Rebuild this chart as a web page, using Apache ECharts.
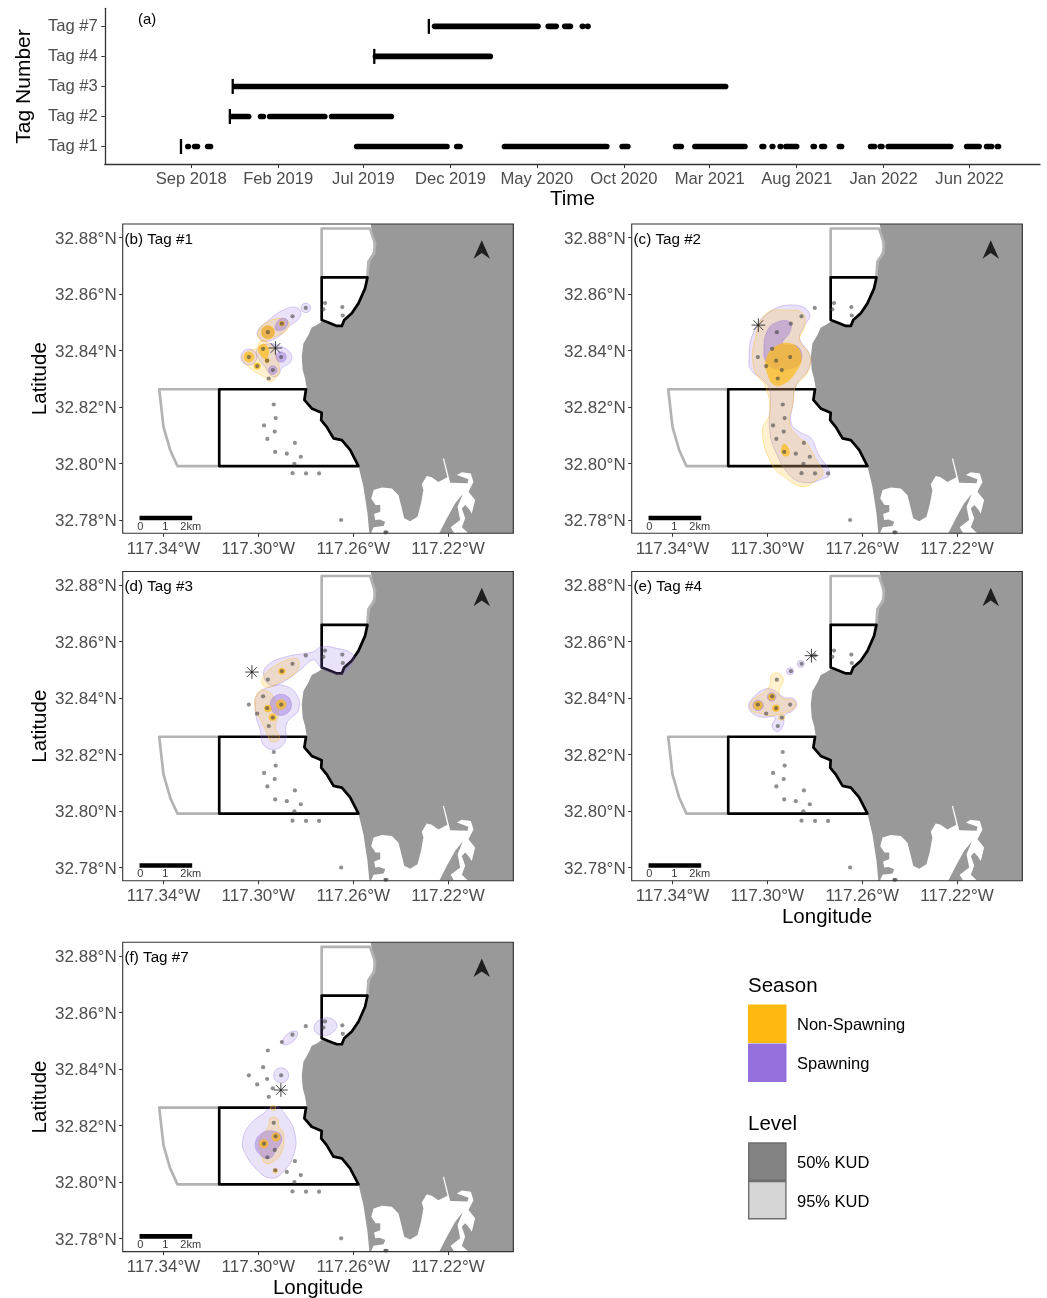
<!DOCTYPE html>
<html><head><meta charset="utf-8">
<script src="https://cdn.jsdelivr.net/npm/echarts@6/dist/echarts.min.js"></script>
<style>html,body{margin:0;padding:0;background:#fff}#c{width:1047px;height:1298px}</style>
</head><body><div id="c"></div>
<script>
// ---------- (a) detection timeline ----------
const tagLabels = ['Tag #1','Tag #2','Tag #3','Tag #4','Tag #7'];
const timeTickDates = ['2018-09-01','2019-02-01','2019-07-01','2019-12-01','2020-05-01','2020-10-01','2021-03-01','2021-08-01','2022-01-01','2022-06-01'];
const timeTickLabels = ['Sep 2018','Feb 2019','Jul 2019','Dec 2019','May 2020','Oct 2020','Mar 2021','Aug 2021','Jan 2022','Jun 2022'];
const releaseDates = ['2018-08-14','2018-11-08','2018-11-13','2019-07-20','2019-10-24'];
const tag1Runs = [['2018-08-26','2018-08-27'],['2018-09-07','2018-09-12'],['2018-09-30','2018-10-05'],['2019-06-19','2019-11-25'],['2019-12-12','2019-12-18'],['2020-03-05','2020-09-01'],['2020-09-28','2020-10-08'],['2020-12-31','2021-01-10'],['2021-02-03','2021-05-02'],['2021-06-01','2021-06-04'],['2021-06-19','2021-06-20'],['2021-07-03','2021-07-04'],['2021-07-13','2021-08-01'],['2021-08-30','2021-09-01'],['2021-09-14','2021-09-19'],['2021-10-15','2021-10-19'],['2021-12-09','2021-12-16'],['2021-12-26','2021-12-29'],['2022-01-09','2022-04-29'],['2022-05-27','2022-06-18'],['2022-07-01','2022-07-10'],['2022-07-20','2022-07-22']];
const tag2Runs = [['2018-11-11','2018-12-11'],['2019-01-01','2019-01-06'],['2019-01-17','2019-04-24'],['2019-05-06','2019-08-19']];
const tag3Runs = [['2018-11-17','2021-03-29']];
const tag4Runs = [['2019-07-22','2020-02-09']];
const tag7Runs = [['2019-11-03','2020-05-03'],['2020-05-21','2020-06-04'],['2020-06-19','2020-06-29'],['2020-07-20','2020-07-21'],['2020-07-29','2020-07-30']];

// ---------- map geography (degrees west, degrees north) ----------
const lonTicks = [117.34,117.30,117.26,117.22];
const latTicks = [32.88,32.86,32.84,32.82,32.80,32.78];
const coast = [[117.2529,32.8862],[117.2518,32.8803],[117.2512,32.8762],[117.2529,32.8720],[117.2540,32.8667],[117.2550,32.8620],[117.2578,32.8567],[117.2606,32.8532],[117.2638,32.8508],[117.2648,32.8487],[117.2669,32.8487],[117.2705,32.8499],[117.2733,32.8502],[117.2754,32.8490],[117.2775,32.8482],[117.2789,32.8455],[117.2810,32.8425],[117.2817,32.8378],[117.2813,32.8331],[117.2803,32.8301],[117.2796,32.8266],[117.2806,32.8225],[117.2775,32.8195],[117.2733,32.8180],[117.2735,32.8154],[117.2712,32.8130],[117.2683,32.8089],[117.2648,32.8083],[117.2613,32.8048],[117.2578,32.7991],[117.2557,32.7918],[117.2540,32.7824],[117.2532,32.7753],[117.2529,32.7694],[117.18,32.7694],[117.18,32.89],[117.2529,32.89]];
const bay = [[117.2529,32.7747],[117.2514,32.7774],[117.2472,32.7779],[117.2465,32.7794],[117.2489,32.7802],[117.2507,32.7800],[117.2512,32.7821],[117.2486,32.7829],[117.2486,32.7853],[117.2506,32.7853],[117.2524,32.7876],[117.2514,32.7906],[117.2479,32.7915],[117.2437,32.7912],[117.2409,32.7888],[117.2395,32.7841],[117.2385,32.7806],[117.2360,32.7796],[117.2329,32.7812],[117.2314,32.7859],[117.2304,32.7906],[117.2311,32.7927],[117.2290,32.7956],[117.2269,32.7951],[117.2241,32.7935],[117.2203,32.7951],[117.2222,32.8018],[117.2217,32.8018],[117.2191,32.7932],[117.2118,32.7930],[117.2114,32.7944],[117.2163,32.7959],[117.2142,32.7969],[117.2104,32.7965],[117.2093,32.7935],[117.2114,32.7900],[117.2086,32.7871],[117.2100,32.7823],[117.2114,32.7841],[117.2128,32.7853],[117.2142,32.7841],[117.2128,32.7806],[117.2142,32.7774],[117.2107,32.7747]];
const bayIslands = [
  [[117.2241,32.7747],[117.2205,32.7806],[117.2170,32.7859],[117.2138,32.7892],[117.2160,32.7847],[117.2149,32.7800],[117.2189,32.7774],[117.2170,32.7747]],
  [[117.2472,32.7762],[117.2451,32.7762],[117.2451,32.7747],[117.2472,32.7747]]
];
const mpaBlack = [
  [[117.3165,32.8263],[117.2799,32.8263],[117.2806,32.8225],[117.2775,32.8195],[117.2733,32.8180],[117.2735,32.8154],[117.2712,32.8130],[117.2683,32.8089],[117.2648,32.8083],[117.2613,32.8048],[117.2578,32.7991],[117.3165,32.7991],[117.3165,32.8263]],
  [[117.2733,32.8659],[117.2540,32.8659],[117.2550,32.8620],[117.2578,32.8567],[117.2606,32.8532],[117.2638,32.8508],[117.2648,32.8487],[117.2669,32.8487],[117.2705,32.8499],[117.2733,32.8508],[117.2733,32.8659]]
];
const mpaGrey = [
  [[117.3165,32.8263],[117.3418,32.8263],[117.3400,32.8130],[117.3372,32.8048],[117.3341,32.7991],[117.3165,32.7991]],
  [[117.2733,32.8659],[117.2733,32.8832],[117.2529,32.8832],[117.2508,32.8779],[117.2512,32.8744],[117.2536,32.8714],[117.2540,32.8659]]
];
const receivers = [[117.2800,32.8551],[117.2856,32.8521],[117.2719,32.8568],[117.2646,32.8554],[117.2644,32.8524],[117.2726,32.8546],[117.2901,32.8495],[117.2960,32.8465],[117.2980,32.8406],[117.3040,32.8377],[117.2904,32.8377],[117.3005,32.8345],[117.2963,32.8364],[117.2939,32.8331],[117.2956,32.8301],[117.2935,32.8209],[117.2927,32.8161],[117.2976,32.8135],[117.2931,32.8113],[117.2962,32.8087],[117.2846,32.8073],[117.2929,32.8041],[117.2880,32.8035],[117.2821,32.8024],[117.2848,32.7999],[117.2856,32.7966],[117.2799,32.7965],[117.2744,32.7965],[117.2651,32.7800],[117.2463,32.7756]];
const northArrow = [[117.2058,32.8758]];
const scaleBar = [[[117.3501,32.7807],[117.3279,32.7807]]];
const scaleLabels = [[117.3498,32.7776,'0'],[117.3392,32.7776,'1'],[117.3285,32.7776,'2km']];
const seasonLabels = ['Non-Spawning','Spawning'];
const levelLabels = ['50% KUD','95% KUD'];

// ---------- release sites ----------
const releaseSites = [[117.2928,32.8409],[117.3038,32.8490],[117.3027,32.8492],[117.2814,32.8550],[117.2905,32.8325]];

// ---------- home ranges: polygons of [lon,lat], or circles [lon,lat,radius] ----------
const tag1Spawn95 = [
 [[117.3004,32.8467],[117.2965,32.8502],[117.2880,32.8549],[117.2831,32.8549],[117.2824,32.8520],[117.2873,32.8484],[117.2916,32.8449],[117.2972,32.8431],[117.2996,32.8443]],
 [117.2800,32.8551,.0020],[117.3040,32.8377,.0034],
 [[117.3007,32.8402],[117.2965,32.8423],[117.2909,32.8416],[117.2864,32.8390],[117.2864,32.8360],[117.2902,32.8337],[117.2916,32.8313],[117.2944,32.8310],[117.2972,32.8343],[117.3000,32.8372]]];
const tag1Non95 = [
 [[117.3070,32.8378],[117.3042,32.8399],[117.3007,32.8408],[117.2993,32.8431],[117.2965,32.8431],[117.2930,32.8396],[117.2911,32.8331],[117.2923,32.8307],[117.2951,32.8290],[117.2976,32.8307],[117.3014,32.8325],[117.3056,32.8355]],
 [[117.3000,32.8467],[117.2972,32.8496],[117.2909,32.8514],[117.2873,32.8502],[117.2880,32.8473],[117.2930,32.8449],[117.2979,32.8435],[117.2996,32.8443]]];
const tag1Non50 = [[117.2960,32.8465,.0028],[117.2901,32.8495,.0011],
 [[117.3000,32.8408],[117.2979,32.8423],[117.2958,32.8408],[117.2961,32.8378],[117.2969,32.8370],[117.2990,32.8384]],
 [117.3040,32.8377,.0021],[117.3005,32.8345,.0014],[117.2963,32.8364,.0010]];
const tag1Spawn50 = [
 [[117.2930,32.8478],[117.2911,32.8510],[117.2880,32.8510],[117.2880,32.8487],[117.2911,32.8470]],
 [117.2960,32.8465,.0025],[117.2904,32.8377,.0022],[117.2939,32.8331,.0018]];

const tag2Spawn95 = [[[117.3077,32.8372],[117.3060,32.8461],[117.2990,32.8537],[117.2885,32.8561],[117.2822,32.8531],[117.2850,32.8478],[117.2864,32.8443],[117.2822,32.8384],[117.2829,32.8331],[117.2878,32.8278],[117.2892,32.8213],[117.2899,32.8142],[117.2864,32.8112],[117.2815,32.8089],[117.2787,32.8036],[117.2737,32.7965],[117.2772,32.7944],[117.2836,32.7932],[117.2899,32.7953],[117.2962,32.8036],[117.2990,32.8118],[117.2990,32.8260],[117.3018,32.8295],[117.3068,32.8331]]];
const tag2Non95 = [[[117.3004,32.8531],[117.2913,32.8543],[117.2850,32.8531],[117.2843,32.8484],[117.2864,32.8437],[117.2822,32.8384],[117.2829,32.8325],[117.2881,32.8272],[117.2892,32.8213],[117.2906,32.8142],[117.2871,32.8095],[117.2833,32.8071],[117.2794,32.8012],[117.2765,32.7965],[117.2794,32.7941],[117.2850,32.7918],[117.2920,32.7947],[117.2983,32.8000],[117.3021,32.8118],[117.2990,32.8177],[117.3007,32.8272],[117.3039,32.8307],[117.3060,32.8348],[117.3053,32.8437]]];
const tag2Non50 = [
 [[117.3004,32.8372],[117.2955,32.8419],[117.2885,32.8419],[117.2857,32.8372],[117.2885,32.8319],[117.2927,32.8284],[117.2969,32.8278],[117.2997,32.8313]],
 [[117.2941,32.8053],[117.2927,32.8069],[117.2906,32.8042],[117.2913,32.8028],[117.2934,32.8030]]];
const tag2Spawn50 = [[[117.3015,32.8392],[117.3000,32.8470],[117.2955,32.8502],[117.2903,32.8500],[117.2905,32.8466],[117.2935,32.8425],[117.2871,32.8413],[117.2857,32.8366],[117.2899,32.8337],[117.2969,32.8337],[117.3004,32.8360]]];

const tag3Spawn95 = [
 [[117.2978,32.8488],[117.2950,32.8523],[117.2880,32.8547],[117.2803,32.8558],[117.2768,32.8564],[117.2732,32.8582],[117.2669,32.8576],[117.2606,32.8558],[117.2599,32.8535],[117.2641,32.8488],[117.2683,32.8488],[117.2739,32.8511],[117.2768,32.8535],[117.2824,32.8499],[117.2894,32.8458],[117.2950,32.8446]],
 [[117.3013,32.8358],[117.3006,32.8411],[117.2950,32.8440],[117.2887,32.8443],[117.2838,32.8411],[117.2831,32.8358],[117.2880,32.8311],[117.2887,32.8246],[117.2929,32.8219],[117.2978,32.8234],[117.2992,32.8287],[117.3006,32.8322]]];
const tag3Non95 = [
 [[117.2985,32.8464],[117.2936,32.8511],[117.2845,32.8541],[117.2828,32.8523],[117.2845,32.8488],[117.2908,32.8458],[117.2964,32.8438]],
 [[117.3013,32.8358],[117.3004,32.8417],[117.2964,32.8425],[117.2929,32.8393],[117.2915,32.8346],[117.2929,32.8299],[117.2911,32.8257],[117.2943,32.8246],[117.2964,32.8275],[117.2985,32.8316]]];
const tag3Non50 = [[117.2901,32.8495,.0014],[117.2904,32.8377,.0021],[117.2960,32.8363,.0015],[117.2940,32.8332,.0015]];
const tag3Spawn50 = [[117.2905,32.8376,.0045]];

const tag4Spawn95 = [[117.2859,32.8521,.0015],[117.2904,32.8495,.0015],
 [[117.3079,32.8372],[117.3060,32.8401],[117.3013,32.8431],[117.2982,32.8431],[117.2954,32.8417],[117.2926,32.8401],[117.2891,32.8399],[117.2877,32.8375],[117.2898,32.8352],[117.2926,32.8340],[117.2933,32.8305],[117.2957,32.8281],[117.2980,32.8299],[117.2968,32.8332],[117.3018,32.8332],[117.3060,32.8344]]];
const tag4Non95 = [[[117.3074,32.8375],[117.3053,32.8399],[117.3010,32.8423],[117.2987,32.8452],[117.2982,32.8482],[117.2954,32.8488],[117.2933,32.8466],[117.2947,32.8434],[117.2950,32.8411],[117.2926,32.8397],[117.2891,32.8393],[117.2881,32.8372],[117.2905,32.8355],[117.2940,32.8346],[117.2989,32.8337],[117.3032,32.8346],[117.3062,32.8352]],[117.2940,32.8332,.0013]];
const tag4Non50 = [[117.3039,32.8374,.0018],[117.2982,32.8404,.0014],[117.2964,32.8364,.0015]];
const tag4Spawn50 = [[117.3039,32.8374,.0022],[117.2982,32.8404,.0018]];

const tag7Spawn95 = [
 [[117.3067,32.8143],[117.3042,32.8196],[117.2978,32.8243],[117.2929,32.8267],[117.2880,32.8231],[117.2845,32.8166],[117.2849,32.8102],[117.2887,32.8043],[117.2943,32.8013],[117.3006,32.8043],[117.3056,32.8102]],
 [117.2904,32.8377,.0032],
 [[117.2901,32.8497],[117.2873,32.8526],[117.2838,32.8532],[117.2841,32.8509],[117.2873,32.8487],[117.2897,32.8487]],
 [[117.2765,32.8550],[117.2739,32.8574],[117.2697,32.8579],[117.2669,32.8556],[117.2683,32.8532],[117.2718,32.8517],[117.2754,32.8526]]];
const tag7Non95 = [
 [[117.2985,32.8090],[117.2999,32.8143],[117.2957,32.8196],[117.2950,32.8225],[117.2922,32.8225],[117.2912,32.8196],[117.2894,32.8172],[117.2901,32.8107],[117.2936,32.8072],[117.2971,32.8066]],
 [117.2928,32.8039,.0011],[117.2938,32.8262,.0011]];
const tag7Non50 = [[117.2977,32.8135,.0018],[117.2926,32.8159,.0018],[117.2928,32.8039,.0006]];
const tag7Spawn50 = [[[117.3013,32.8131],[117.2985,32.8172],[117.2929,32.8178],[117.2901,32.8155],[117.2929,32.8107],[117.2950,32.8084],[117.2985,32.8090]]];

// ---------- layout and styling ----------
const FONT='"Liberation Sans", Arial, sans-serif';
const TICK='#4D4D4D', DARK='#333333';
const NON='255,185,15', SPA='147,112,219';
const t = s => +new Date(s+'T00:00:00');
const timeTicks = timeTickDates.map(t);
const panels = [
 {id:'(b) Tag #1',left:122.7,top:224,lat:true,lon:false,kud:[tag1Spawn95,tag1Non95,tag1Spawn50,tag1Non50],site:0},
 {id:'(c) Tag #2',left:631.7,top:224,lat:false,lon:false,kud:[tag2Spawn95,tag2Non95,tag2Spawn50,tag2Non50],site:1},
 {id:'(d) Tag #3',left:122.7,top:571.5,lat:true,lon:false,kud:[tag3Spawn95,tag3Non95,tag3Spawn50,tag3Non50],site:2},
 {id:'(e) Tag #4',left:631.7,top:571.5,lat:false,lon:true,kud:[tag4Spawn95,tag4Non95,tag4Spawn50,tag4Non50],site:3},
 {id:'(f) Tag #7',left:122.7,top:942.3,lat:true,lon:true,kud:[tag7Spawn95,tag7Non95,tag7Spawn50,tag7Non50],site:4}
];
const PW=390.6, PH=309.3;
const grids=[{left:104.8,top:8.3,width:935.2,height:156.3,show:false,outerBoundsMode:'none'}];
const xAxes=[{type:'value',gridIndex:0,min:t('2018-04-02'),max:t('2022-10-03'),name:'Time',nameLocation:'middle',nameGap:23,
  nameTextStyle:{fontSize:20.5,color:'#000',fontFamily:FONT},
  axisLine:{show:true,lineStyle:{color:DARK,width:1.3}},splitLine:{show:false},
  axisTick:{show:true,length:3.5,lineStyle:{color:DARK,width:1},customValues:timeTicks},
  axisLabel:{color:TICK,fontSize:16.6,fontFamily:FONT,margin:6,hideOverlap:false,
    customValues:timeTicks,formatter:v=>timeTickLabels[timeTicks.indexOf(+v)]||''}}];
const yAxes=[{type:'value',gridIndex:0,min:.4,max:5.6,name:'Tag Number',nameLocation:'middle',nameGap:70,
  nameTextStyle:{fontSize:21,color:'#000',fontFamily:FONT},
  axisLine:{show:true,lineStyle:{color:DARK,width:1.3}},splitLine:{show:false},
  axisTick:{show:true,length:3.5,lineStyle:{color:DARK,width:1},customValues:[1,2,3,4,5]},
  axisLabel:{color:TICK,fontSize:16.6,fontFamily:FONT,margin:7,customValues:[1,2,3,4,5],formatter:v=>tagLabels[v-1]}}];

const series=[];
function runItems(){const out=[];[tag1Runs,tag2Runs,tag3Runs,tag4Runs,tag7Runs].forEach((runs,i)=>runs.forEach(r=>out.push([t(r[0]),t(r[1]),i+1])));return out;}
series.push({type:'custom',name:'Detections',coordinateSystem:'cartesian2d',xAxisIndex:0,yAxisIndex:0,silent:true,
  data:runItems(),encode:{x:[0,1],y:2},
  renderItem:(p,api)=>{const a=api.coord([api.value(0),api.value(2)]),b=api.coord([api.value(1),api.value(2)]);
    return {type:'line',shape:{x1:a[0],y1:a[1],x2:b[0],y2:b[1]},style:{stroke:'#000',lineWidth:5.6,lineCap:'round',fill:null}};}});
series.push({type:'custom',name:'Release',coordinateSystem:'cartesian2d',xAxisIndex:0,yAxisIndex:0,silent:true,
  data:releaseDates.map((d,i)=>[t(d),i+1]),encode:{x:0,y:1},
  renderItem:(p,api)=>{const a=api.coord([api.value(0),api.value(1)]);
    return {type:'line',shape:{x1:a[0],y1:a[1]-7.5,x2:a[0],y2:a[1]+7.5},style:{stroke:'#000',lineWidth:2.3,fill:null}};}});

function shapes(i,name,parts,style,opts){opts=opts||{};
  const isCircle=p=>typeof p[0]==='number';
  series.push({type:'custom',name:name,coordinateSystem:'cartesian2d',xAxisIndex:i,yAxisIndex:i,clip:true,silent:true,z:opts.z||2,
    data:parts.map(p=>isCircle(p)?[p[0],p[1]]:[p[0][0],p[0][1]]),encode:{x:0,y:1},
    renderItem:(pr,api)=>{const part=parts[pr.dataIndex];
      if(isCircle(part)){const c=api.coord([part[0],part[1]]),r=api.size([part[2],0])[0];
        return {type:'circle',shape:{cx:c[0],cy:c[1],r:r},style:style};}
      const pts=part.map(q=>api.coord(q));
      return {type:opts.open?'polyline':'polygon',shape:{points:pts,smooth:opts.smooth||0},style:style};}});
}

panels.forEach((P,k)=>{const i=k+1;
  grids.push({left:P.left,top:P.top,width:PW,height:PH,show:false,outerBoundsMode:'none'});
  xAxes.push({type:'value',gridIndex:i,inverse:true,min:117.1925,max:117.3572,
    name:P.lon?'Longitude':'',nameLocation:'middle',nameGap:26.5,nameTextStyle:{fontSize:20.5,color:'#000',fontFamily:FONT},
    axisLine:{show:false},splitLine:{show:false},
    axisTick:{show:true,length:3.5,lineStyle:{color:DARK,width:1},customValues:lonTicks},
    axisLabel:{color:TICK,fontSize:17,fontFamily:FONT,margin:7.5,customValues:lonTicks,formatter:v=>v.toFixed(2)+'°W'}});
  yAxes.push({type:'value',gridIndex:i,min:32.7753,max:32.8848,
    name:P.lat?'Latitude':'',nameLocation:'middle',nameGap:70.5,nameTextStyle:{fontSize:20.5,color:'#000',fontFamily:FONT},
    axisLine:{show:false},splitLine:{show:false},
    axisTick:{show:true,length:3.5,lineStyle:{color:DARK,width:1},customValues:latTicks},
    axisLabel:{color:TICK,fontSize:17,fontFamily:FONT,margin:6,verticalAlign:'top',lineHeight:3,customValues:latTicks,formatter:v=>v.toFixed(2)+'°N'}});
  const land={fill:'#999999',stroke:null};
  shapes(i,'Land',[coast],land,{z:2});
  shapes(i,'Bay',[bay],{fill:'#ffffff',stroke:null},{z:3});
  shapes(i,'Bay islands',bayIslands,land,{z:3.5});
  const lineS=c=>({fill:null,stroke:c,lineWidth:2.7,lineJoin:'round',lineCap:'round'});
  shapes(i,'MPA grey',mpaGrey,lineS('#B3B3B3'),{open:true,z:4});
  shapes(i,'MPA black',mpaBlack,lineS('#000000'),{open:true,z:5});
  const [s95,n95,s50,n50]=P.kud;
  const kudStyle=(c,a)=>({fill:`rgba(${c},${a})`,stroke:`rgba(${c},0.5)`,lineWidth:.7});
  shapes(i,'Spawning 95% KUD',s95,kudStyle(SPA,.2),{smooth:.45,z:6});
  shapes(i,'Non-Spawning 95% KUD',n95,kudStyle(NON,.2),{smooth:.45,z:6.1});
  shapes(i,'Spawning 50% KUD',s50,kudStyle(SPA,.42),{smooth:.45,z:6.2});
  shapes(i,'Non-Spawning 50% KUD',n50,kudStyle(NON,.68),{smooth:.45,z:6.3});
  series.push({type:'scatter',name:'Receivers',xAxisIndex:i,yAxisIndex:i,silent:true,z:7,symbolSize:4.2,
    itemStyle:{color:'rgba(60,60,60,0.72)'},data:receivers,clip:true});
  series.push({type:'custom',name:'Release site',coordinateSystem:'cartesian2d',xAxisIndex:i,yAxisIndex:i,silent:true,z:8,
    data:[releaseSites[P.site]],encode:{x:0,y:1},
    renderItem:(p,api)=>{const c=api.coord([api.value(0),api.value(1)]),h=6.8,d=4.8;
      const seg=(dx,dy)=>({type:'line',shape:{x1:c[0]-dx,y1:c[1]-dy,x2:c[0]+dx,y2:c[1]+dy},style:{stroke:'#111',lineWidth:.8,fill:null}});
      return {type:'group',children:[seg(h,0),seg(0,h),seg(d,d),seg(d,-d)]};}});
  series.push({type:'scatter',name:'North',xAxisIndex:i,yAxisIndex:i,silent:true,z:8,data:northArrow,
    symbol:'path://M0 20L8.5 0L17 20L8.5 14Z',symbolSize:[16.5,18.5],itemStyle:{color:'#000'}});
  shapes(i,'Scale bar',scaleBar,{fill:null,stroke:'#000',lineWidth:4.6},{open:true,z:8});
  series.push({type:'scatter',name:'Scale',xAxisIndex:i,yAxisIndex:i,silent:true,z:8,symbolSize:1,itemStyle:{color:'rgba(0,0,0,0)'},
    data:scaleLabels,clip:false,
    label:{show:true,position:'inside',formatter:q=>q.value[2],fontSize:11,color:'#000',fontFamily:FONT}});
});

// ---------- panel frames, panel tags and legend ----------
const g=[];
const txt=(x,y,s,size)=>g.push({type:'text',x:x,y:y,z:100,style:{text:s,fontSize:size,fontFamily:FONT,fill:'#000',verticalAlign:'middle'}});
txt(138,20,'(a)',14.8);
panels.forEach(P=>{
  g.push({type:'rect',z:90,silent:true,shape:{x:P.left,y:P.top,width:PW,height:PH},style:{fill:'none',stroke:DARK,lineWidth:1.1}});
  txt(P.left+1.8,P.top+15.4,P.id,15.2);});
txt(748,986,'Season',20.5);
txt(748,1124,'Level',20.5);
[['rgb('+NON+')',1004.5],['rgb('+SPA+')',1043.5]].forEach((o,i)=>{
  g.push({type:'rect',shape:{x:748,y:o[1],width:38.5,height:38.5},style:{fill:o[0],stroke:null},z:100});
  txt(797,o[1]+21,seasonLabels[i],16.5);});
[['#828282',1143],['#D6D6D6',1181.5]].forEach((o,i)=>{
  g.push({type:'rect',shape:{x:748.7,y:o[1],width:37.2,height:37.2},style:{fill:o[0],stroke:'#6E6E6E',lineWidth:1.4},z:100});
  txt(797,o[1]+20.5,levelLabels[i],16.5);});

const chart=echarts.init(document.getElementById('c'),null,{renderer:'canvas'});
chart.setOption({animation:false,backgroundColor:'#fff',textStyle:{fontFamily:FONT},grid:grids,xAxis:xAxes,yAxis:yAxes,series:series,graphic:g});
</script></body></html>
